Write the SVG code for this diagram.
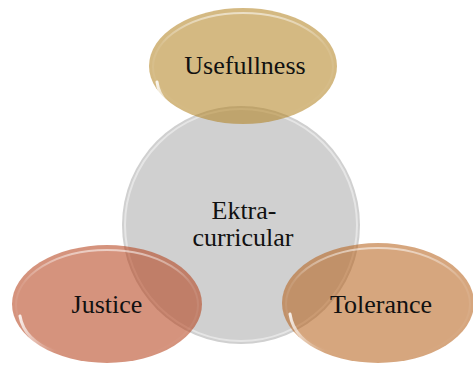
<svg xmlns="http://www.w3.org/2000/svg" width="473" height="365" viewBox="0 0 473 365">
  <style>
    .lbl { font-family: "Liberation Serif", "DejaVu Serif", serif; font-size: 26px; fill: #111; text-anchor: middle; }
    .rim { fill: none; stroke: url(#rimGrad); stroke-width: 2; }
    .glint { fill: none; stroke: url(#glintGrad); stroke-width: 3; stroke-linecap: round; }
  </style>
  <defs>
    <linearGradient id="rimGrad" x1="0" y1="0" x2="0" y2="1">
      <stop offset="0" stop-color="#fff" stop-opacity="0.55"/>
      <stop offset="0.3" stop-color="#fff" stop-opacity="0.1"/>
      <stop offset="1" stop-color="#fff" stop-opacity="0"/>
    </linearGradient>
    <linearGradient id="glintGrad" x1="0" y1="0" x2="1" y2="1">
      <stop offset="0" stop-color="#fff" stop-opacity="0.85"/>
      <stop offset="1" stop-color="#fff" stop-opacity="0"/>
    </linearGradient>
  </defs>

  <!-- central hub -->
  <g id="node-ektra">
    <circle cx="241" cy="225" r="119" fill="#d0d0d0"/>
    <circle cx="241" cy="225" r="116" fill="none" stroke="#fff" stroke-opacity="0.45" stroke-width="2"/>
  </g>

  <g id="connectors"></g>

  <!-- outer petals -->
  <g id="node-usefullness">
    <ellipse cx="243" cy="66" rx="94" ry="58" fill="#b1801c" fill-opacity="0.55"/>
    <ellipse cx="243" cy="67" rx="90" ry="54" class="rim"/>
    <path d="M157,82 Q160,105 190,116" class="glint"/>
  </g>
  <g id="node-justice">
    <ellipse cx="107" cy="304" rx="95" ry="59" fill="#b33b13" fill-opacity="0.55"/>
    <ellipse cx="107" cy="305" rx="91" ry="55" class="rim"/>
    <path d="M20,316 Q24,340 55,352" class="glint"/>
  </g>
  <g id="node-tolerance">
    <ellipse cx="378" cy="303" rx="96" ry="60" fill="#b45d14" fill-opacity="0.55"/>
    <ellipse cx="378" cy="304" rx="92" ry="56" class="rim"/>
    <path d="M290,314 Q294,340 325,352" class="glint"/>
  </g>

  <!-- labels -->
  <text class="lbl" x="245" y="74">Usefullness</text>
  <text class="lbl" x="244" y="219">Ektra-</text>
  <text class="lbl" x="243" y="246">curricular</text>
  <text class="lbl" x="107" y="313">Justice</text>
  <text class="lbl" x="381" y="313">Tolerance</text>
</svg>
